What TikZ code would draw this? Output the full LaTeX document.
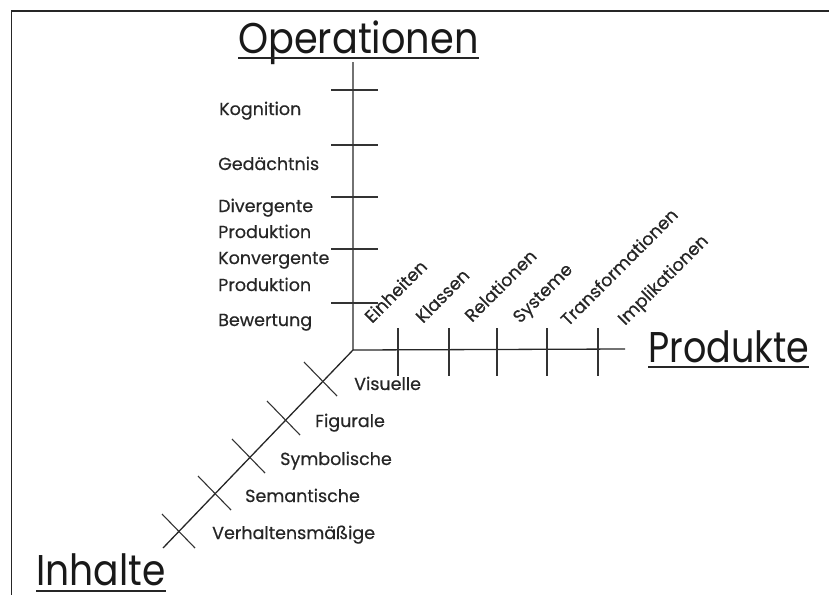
\documentclass[tikz,border=0pt]{standalone}
\usepackage{fontspec}
\setmainfont{Poppins}
\newfontfamily\lblfont[FakeBold=0.5]{Poppins}
\begin{document}
\begin{tikzpicture}[x=1pt,y=-1pt,
  axis/.style={line width=1.3pt,black!85},
  tick/.style={line width=1.1pt,black!80},
  lbl/.style={inner sep=0pt,anchor=base west,font=\lblfont\fontsize{17.5}{20}\selectfont,text=black!85},
  rlbl/.style={lbl,rotate=45},
  title/.style={inner sep=0pt,anchor=base west,font=\fontsize{43}{46}\selectfont,text=black!90},
  uline/.style={line width=1.8pt,black!85}]
\useasboundingbox (0,0) rectangle (829,595);
% frame
\coordinate (fa) at (829,11);
\coordinate (fb) at (11.5,11);
\coordinate (fc) at (11.5,595);
\draw[line width=1.2pt,black!85] (fa) -- (fb) -- (fc);
% axes
\coordinate (O) at (353,350);
\coordinate (Otop) at (353,62);
\coordinate (Pend) at (625,349);
\coordinate (Iend) at (163,548);
\draw[axis] (Otop) -- (O) -- (Pend);
\draw[axis] (O) -- (Iend);
% vertical ticks
\foreach \y [count=\i] in {90,145,197,249,303}{
  \coordinate (vl\i) at (331,\y);
  \coordinate (vr\i) at (378,\y);
  \draw[tick] (vl\i) -- (vr\i);
}
% horizontal ticks
\foreach \x [count=\i] in {398,449,497,547,598}{
  \coordinate (ht\i) at (\x,328);
  \coordinate (hb\i) at (\x,376);
  \draw[tick] (ht\i) -- (hb\i);
}
% diagonal crosses
\foreach \cx/\cy [count=\i] in {322/380,285/419,250/457,216/494,180/532}{
  \coordinate (da\i) at (\cx-18,\cy-18);
  \coordinate (db\i) at (\cx+15,\cy+16);
  \draw[tick] (da\i) -- (db\i);
}
% titles
\node[title] (op) at (238,53) {\scalebox{0.89}[1]{Operationen}};
\draw[uline] ([yshift=-5pt]op.base west) -- ([yshift=-5pt]op.base east);
\node[title] (pr) at (648,362) {\scalebox{0.85}[1]{Produkte}};
\draw[uline] ([yshift=-5pt]pr.base west) -- ([yshift=-5pt]pr.base east);
\node[title] (in) at (36,585) {\scalebox{0.875}[1]{Inhalte}};
\draw[uline] ([yshift=-6pt]in.base west) -- ([yshift=-6pt]in.base east);
% operation labels
\node[lbl] (k1) at (219,115) {Kognition};
\node[lbl] (k2) at (218,170) {Gedächtnis};
\node[lbl] (k3) at (218,212) {Divergente};
\node[lbl] (k4) at (218,238) {Produktion};
\node[lbl] (k5) at (218,264) {Konvergente};
\node[lbl] (k6) at (218,291) {Produktion};
\node[lbl] (k7) at (218,326) {Bewertung};
% product labels
\node[rlbl] (p1) at (372,324) {Einheiten};
\node[rlbl] (p2) at (423,324) {Klassen};
\node[rlbl] (p3) at (472,323) {Relationen};
\node[rlbl] (p4) at (520,324) {Systeme};
\node[rlbl] (p5) at (568,327) {Transformationen};
\node[rlbl] (p6) at (625,326) {Implikationen};
% content labels
\node[lbl] (c1) at (354,390) {Visuelle};
\node[lbl] (c2) at (315,427) {Figurale};
\node[lbl] (c3) at (280,465) {Symbolische};
\node[lbl] (c4) at (245,502) {Semantische};
\node[lbl] (c5) at (212,539) {Verhaltensmäßige};
\end{tikzpicture}
\end{document}
